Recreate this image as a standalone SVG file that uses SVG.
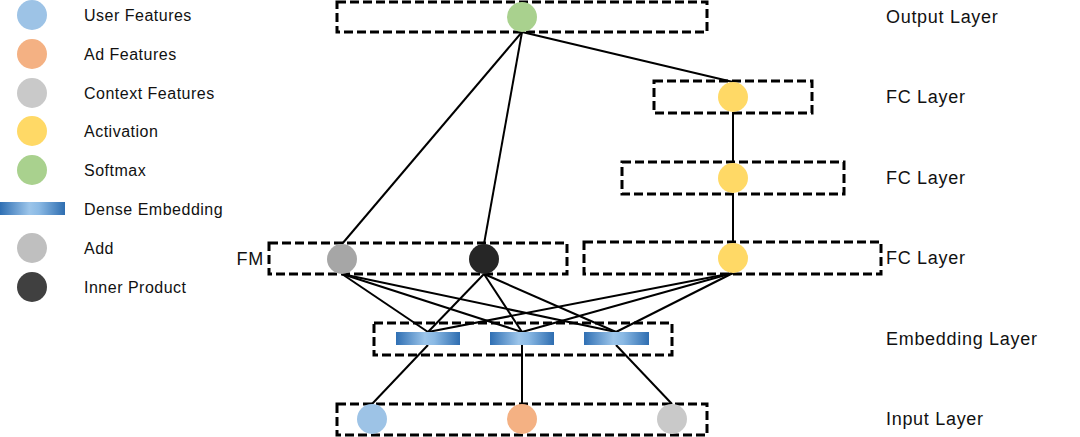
<svg xmlns="http://www.w3.org/2000/svg" width="1080" height="437" viewBox="0 0 1080 437">
  <defs>
    <linearGradient id="dense" x1="0" y1="0" x2="1" y2="0">
      <stop offset="0" stop-color="#2f6fb3"/>
      <stop offset="0.45" stop-color="#9cc5ea"/>
      <stop offset="0.6" stop-color="#8ab9e4"/>
      <stop offset="1" stop-color="#2e6db0"/>
    </linearGradient>
    <style>
      .box { fill: none; stroke: #000; stroke-width: 3; stroke-dasharray: 9 4; }
      .edge { stroke: #000; stroke-width: 2; fill: none; }
      .lbl { font-family: "Liberation Sans", Arial, sans-serif; font-size: 18px; letter-spacing: 0.7px; fill: #111; }
      .leg { font-family: "Liberation Sans", Arial, sans-serif; font-size: 16px; letter-spacing: 0.5px; fill: #111; }
      .user { fill: #9dc3e6; }
      .ad { fill: #f4b183; }
      .ctx { fill: #c9c9c9; }
      .act { fill: #ffd966; }
      .soft { fill: #a9d18e; }
      .add { fill: #a6a6a6; }
      .inner { fill: #262626; }
      .bar { fill: url(#dense); }
    </style>
  </defs>

  <!-- legend -->
  <g id="legend">
    <circle cx="32" cy="15" r="15" class="user"/>
    <text x="84" y="21" class="leg">User Features</text>
    <circle cx="32" cy="54" r="15" class="ad"/>
    <text x="84" y="60" class="leg">Ad Features</text>
    <circle cx="32" cy="93" r="15" class="ctx"/>
    <text x="84" y="99" class="leg">Context Features</text>
    <circle cx="32" cy="131" r="15" class="act"/>
    <text x="84" y="137" class="leg">Activation</text>
    <circle cx="32" cy="170" r="15" class="soft"/>
    <text x="84" y="176" class="leg">Softmax</text>
    <rect x="0" y="202" width="65" height="13" class="bar"/>
    <text x="84" y="215" class="leg">Dense Embedding</text>
    <circle cx="32" cy="248" r="15" fill="#bfbfbf"/>
    <text x="84" y="254" class="leg">Add</text>
    <circle cx="32" cy="287" r="15" fill="#404040"/>
    <text x="84" y="293" class="leg">Inner Product</text>
  </g>

  <!-- connectors -->
  <g id="connectors">
    <line x1="522" y1="32" x2="342" y2="244" class="edge"/>
    <line x1="522" y1="32" x2="484" y2="244" class="edge"/>
    <line x1="522" y1="32" x2="733" y2="82" class="edge"/>
    <line x1="733" y1="112" x2="733" y2="163" class="edge"/>
    <line x1="733" y1="193" x2="733" y2="243" class="edge"/>
    <line x1="342" y1="274" x2="428" y2="332" class="edge"/>
    <line x1="342" y1="274" x2="522" y2="332" class="edge"/>
    <line x1="342" y1="274" x2="616" y2="332" class="edge"/>
    <line x1="484" y1="274" x2="428" y2="332" class="edge"/>
    <line x1="484" y1="274" x2="522" y2="332" class="edge"/>
    <line x1="484" y1="274" x2="616" y2="332" class="edge"/>
    <line x1="733" y1="273" x2="428" y2="332" class="edge"/>
    <line x1="733" y1="273" x2="522" y2="332" class="edge"/>
    <line x1="733" y1="273" x2="616" y2="332" class="edge"/>
    <line x1="428" y1="345" x2="372" y2="404" class="edge"/>
    <line x1="522" y1="345" x2="522" y2="404" class="edge"/>
    <line x1="616" y1="345" x2="672" y2="404" class="edge"/>
  </g>

  <!-- output layer -->
  <g id="output-layer">
    <rect x="337" y="2" width="370" height="30" class="box"/>
    <circle cx="522" cy="17" r="15" class="soft"/>
    <text x="886" y="23" class="lbl">Output Layer</text>
  </g>

  <!-- fully connected stack -->
  <g id="fc-1">
    <rect x="654" y="81" width="158" height="32" class="box"/>
    <circle cx="733" cy="97" r="15" class="act"/>
    <text x="886" y="103" class="lbl">FC Layer</text>
  </g>
  <g id="fc-2">
    <rect x="622" y="162" width="222" height="32" class="box"/>
    <circle cx="733" cy="178" r="15" class="act"/>
    <text x="886" y="184" class="lbl">FC Layer</text>
  </g>
  <g id="fc-3">
    <rect x="584" y="242" width="297" height="32" class="box"/>
    <circle cx="733" cy="258" r="15" class="act"/>
    <text x="886" y="264" class="lbl">FC Layer</text>
  </g>

  <!-- factorization machine -->
  <g id="fm">
    <rect x="269" y="243" width="298" height="31" class="box"/>
    <circle cx="342" cy="259" r="15" class="add"/>
    <circle cx="484" cy="259" r="15" class="inner"/>
    <text x="264" y="265" class="lbl" text-anchor="end" letter-spacing="0">FM</text>
  </g>

  <!-- embedding layer -->
  <g id="embedding-layer">
    <rect x="374" y="323" width="298" height="32" class="box"/>
    <rect x="396" y="332" width="64" height="13" class="bar"/>
    <rect x="490" y="332" width="64" height="13" class="bar"/>
    <rect x="584" y="332" width="65" height="13" class="bar"/>
    <text x="886" y="345" class="lbl">Embedding Layer</text>
  </g>

  <!-- input layer -->
  <g id="input-layer">
    <rect x="337" y="404" width="370" height="31" class="box"/>
    <circle cx="372" cy="419" r="15" class="user"/>
    <circle cx="522" cy="419" r="15" class="ad"/>
    <circle cx="672" cy="419" r="15" class="ctx"/>
    <text x="886" y="425" class="lbl">Input Layer</text>
  </g>
</svg>
